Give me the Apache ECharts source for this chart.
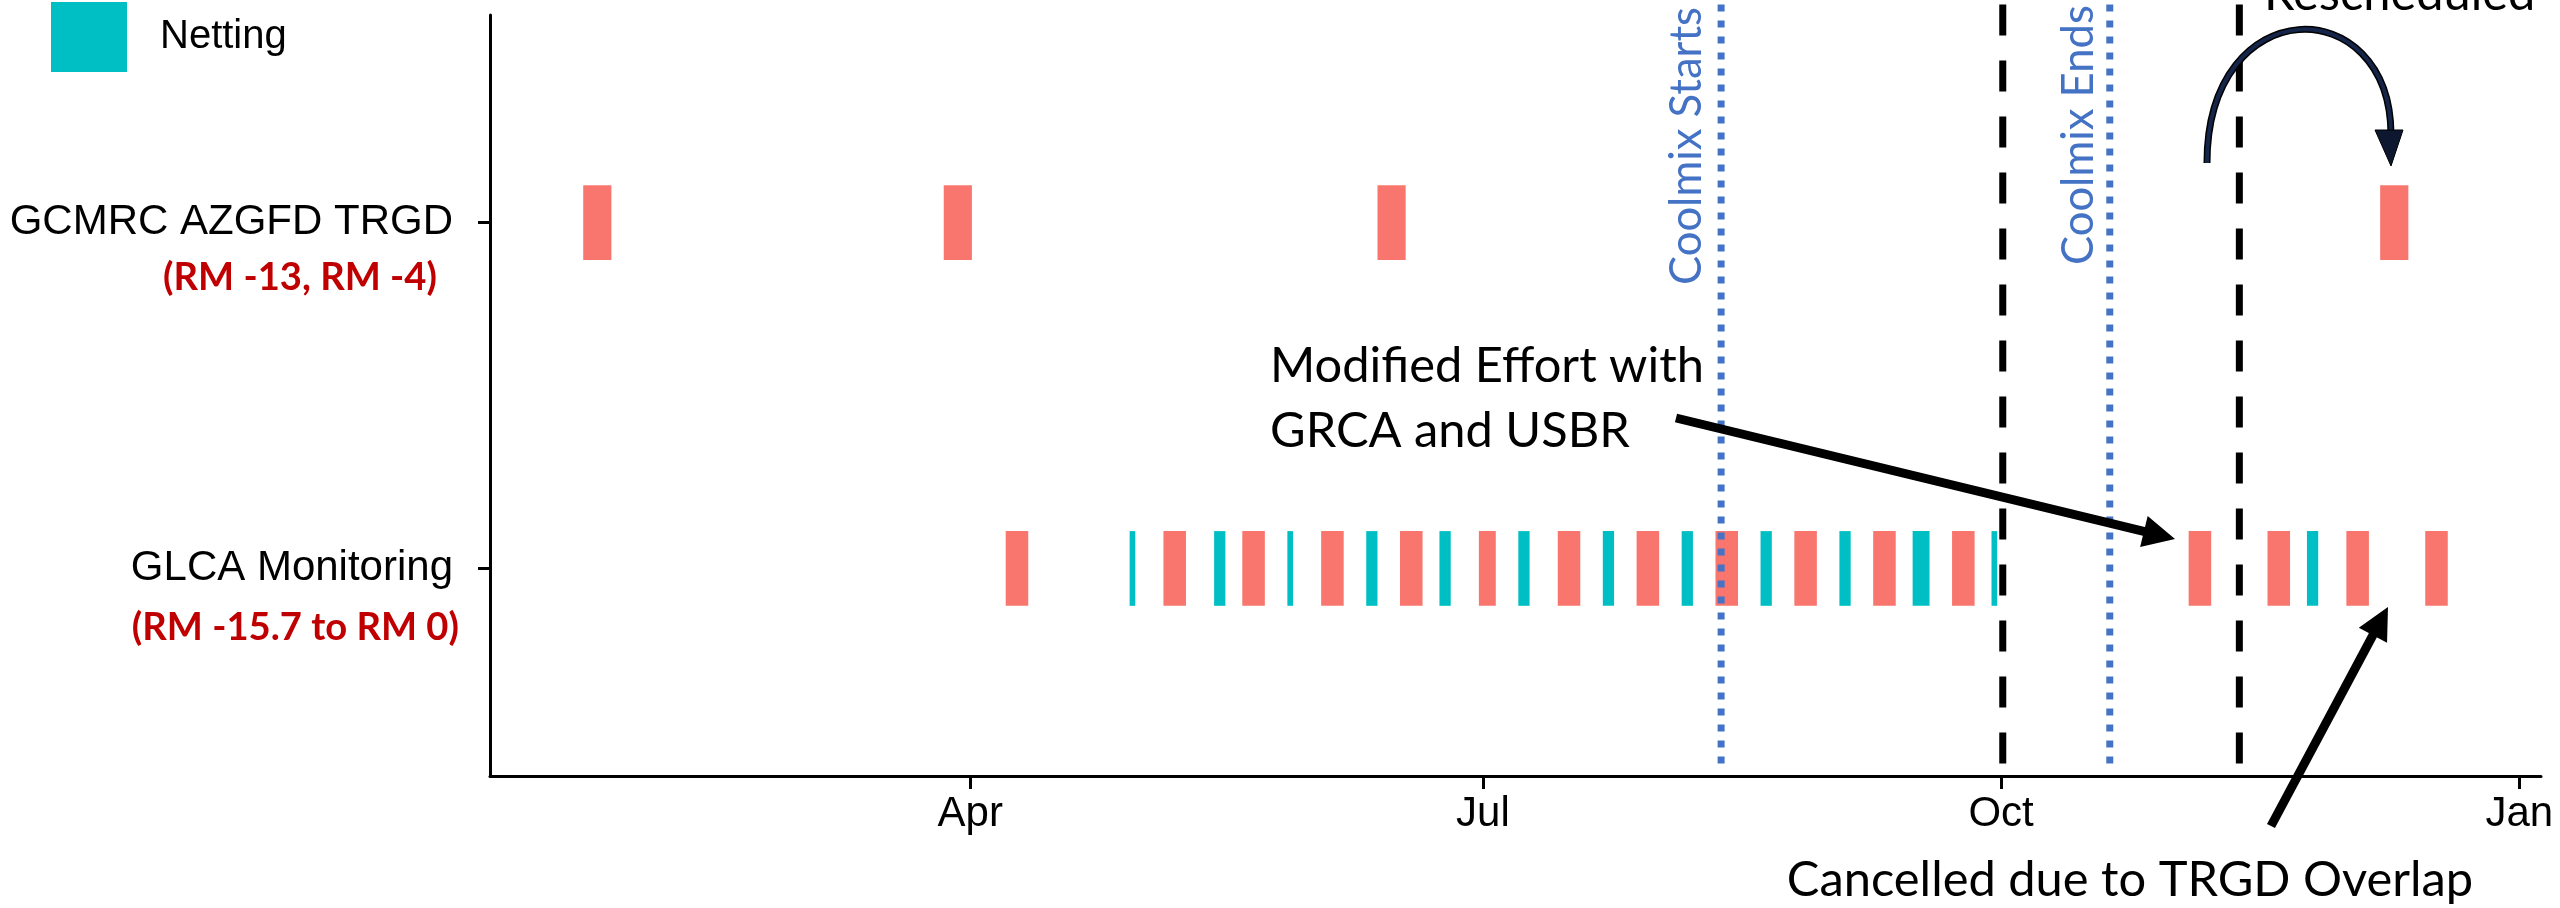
<!DOCTYPE html>
<html>
<head>
<meta charset="utf-8">
<script src="https://cdn.jsdelivr.net/npm/echarts@6/dist/echarts.min.js"></script>
<style>html,body{margin:0;padding:0;background:#fff}#c{width:2560px;height:908px}</style>
</head>
<body>
<div id="c"></div>
<script>
// ---------------- data ----------------
const categories = ['GLCA Monitoring', 'GCMRC AZGFD TRGD'];           // bottom -> top
const categorySubLabels = ['(RM -15.7 to RM 0)', '(RM -13, RM -4)'];
const methods = ['Electrofishing', 'Netting'];

const glcaElectrofishing = [
  ['2024-04-07','2024-04-11'], ['2024-05-05','2024-05-09'], ['2024-05-19','2024-05-23'],
  ['2024-06-02','2024-06-06'], ['2024-06-16','2024-06-20'], ['2024-06-30','2024-07-03'],
  ['2024-07-14','2024-07-18'], ['2024-07-28','2024-08-01'], ['2024-08-11','2024-08-15'],
  ['2024-08-25','2024-08-29'], ['2024-09-08','2024-09-12'], ['2024-09-22','2024-09-26'],
  ['2024-11-03','2024-11-07'], ['2024-11-17','2024-11-21'], ['2024-12-01','2024-12-05'],
  ['2024-12-15','2024-12-19']
];
const glcaNetting = [
  ['2024-04-29','2024-04-30'], ['2024-05-14','2024-05-16'], ['2024-05-27','2024-05-28'],
  ['2024-06-10','2024-06-12'], ['2024-06-23','2024-06-25'], ['2024-07-07','2024-07-09'],
  ['2024-07-22','2024-07-24'], ['2024-08-05','2024-08-07'], ['2024-08-19','2024-08-21'],
  ['2024-09-02','2024-09-04'], ['2024-09-15','2024-09-18'], ['2024-09-29','2024-09-30'],
  ['2024-11-24','2024-11-26']
];
const gcmrcElectrofishing = [
  ['2024-01-23','2024-01-28'], ['2024-03-27','2024-04-01'], ['2024-06-12','2024-06-17'],
  ['2024-12-07','2024-12-12']
];
const tickDates = ['2024-04-01','2024-07-01','2024-10-01','2025-01-01'];
const tickLabels = ['Apr','Jul','Oct','Jan'];
const coolmixDates = ['2024-08-12','2024-10-20'];
const coolmixLabels = ['Coolmix Starts','Coolmix Ends'];
const dashedDates = ['2024-10-01','2024-11-12'];

// ---------------- style constants ----------------
const SALMON = '#F8766D', TEAL = '#00BFC4', BLUE = '#4472C4', RED = '#C00000';
const ARIAL = "'Liberation Sans', Arial, sans-serif";
const CAL = "Lato, 'Open Sans', sans-serif";
const BAR_HALF = 0.108;
const LINE_TOP = 2.63, LINE_BOTTOM = 0.43;
const TZ_OFFSET_H = 7;

function toTime(s){ const [y,m,d]=s.split('-').map(Number); return Date.UTC(y,m-1,d) + TZ_OFFSET_H*3600e3; }
function tickTime(s){ const [y,m,d]=s.split('-').map(Number); return Date.UTC(y,m-1,d); }
function trips(list, ci){ return list.map(([s,e]) => [ci+1, toTime(s), toTime(e)]); }

const electroData = trips(glcaElectrofishing,0).concat(trips(gcmrcElectrofishing,1));
const nettingData = trips(glcaNetting,0);
const allT = electroData.concat(nettingData);
const tMin = Math.min(...allT.map(d=>d[1])), tMax = Math.max(...allT.map(d=>d[2]));
const pad = 0.05*(tMax - tMin);
const ticks = tickDates.map(tickTime);

const mctx = document.createElement('canvas').getContext('2d');
function fit(text, weight, family, width){ mctx.font = weight + ' 100px ' + family; return 100*width/mctx.measureText(text).width; }
const annSize = fit('Modified Effort with','normal',CAL,434);
const vlSize = fit('Coolmix Starts','normal',CAL,278);
const redSize = fit('(RM -13, RM -4)','bold',CAL,274);

function renderTrip(params, api){
  const cat = api.value(0), s = api.value(1), e = api.value(2);
  const a = api.coord([s, cat + BAR_HALF]);
  const b = api.coord([e, cat - BAR_HALF]);
  return {type:'rect', shape:{x:a[0], y:a[1], width:b[0]-a[0], height:b[1]-a[1]}, style:{fill: api.visual('color')}};
}
function vline(date, color, width, dash){
  return {type:'line', data:[[toTime(date), LINE_TOP],[toTime(date), LINE_BOTTOM]], symbol:'none', showSymbol:false,
    clip:false, silent:true, z:3, lineStyle:{color, width, type:dash, cap:'butt'}};
}
function arrow(tail, tip, width, headLen, headHalf, color){
  const dx=tip[0]-tail[0], dy=tip[1]-tail[1], L=Math.hypot(dx,dy), ux=dx/L, uy=dy/L;
  const bx=tip[0]-ux*headLen, by=tip[1]-uy*headLen;
  return [
    {type:'line', z:100, shape:{x1:tail[0],y1:tail[1],x2:bx+ux*2,y2:by+uy*2}, style:{stroke:color,lineWidth:width}},
    {type:'polygon', z:100, shape:{points:[tip,[bx-uy*headHalf, by+ux*headHalf],[bx+uy*headHalf, by-ux*headHalf]]}, style:{fill:color}}
  ];
}
function txt(x, y, text, o){
  return {type:'text', x, y, z:100, rotation:o.rotation||0, style:{text, fill:o.fill||'#000', fontSize:o.size,
    fontFamily:o.family||CAL, fontWeight:o.weight||'normal', align:o.align||'left', verticalAlign:'middle'}};
}

const series = [
  {type:'custom', name:methods[0], renderItem:renderTrip, data:electroData, encode:{x:[1,2], y:0}, itemStyle:{color:SALMON}, z:2},
  {type:'custom', name:methods[1], renderItem:renderTrip, data:nettingData, encode:{x:[1,2], y:0}, itemStyle:{color:TEAL}, z:2},
  vline(coolmixDates[0], BLUE, 7, [7,9]),
  vline(coolmixDates[1], BLUE, 7, [7,9]),
  vline(dashedDates[0], '#000', 7, [31,25]),
  vline(dashedDates[1], '#000', 7, [31,25])
];

const graphic = [
  txt(437, 278, categorySubLabels[1], {size:redSize, weight:'bold', fill:RED, align:'right'}),
  txt(459, 628, categorySubLabels[0], {size:redSize, weight:'bold', fill:RED, align:'right'}),
  txt(1687, 285, coolmixLabels[0], {size:vlSize, fill:BLUE, rotation:Math.PI/2}),
  txt(2079, 265, coolmixLabels[1], {size:vlSize, fill:BLUE, rotation:Math.PI/2}),
  txt(1270, 366, 'Modified Effort with', {size:annSize}),
  txt(1270, 431, 'GRCA and USBR', {size:annSize}),
  txt(2130, 880, 'Cancelled due to TRGD Overlap', {size:annSize, align:'center'}),
  txt(2264, -6, 'Rescheduled', {size:annSize}),
  ...arrow([1676,418],[2175,539], 9, 32, 16, '#000'),
  ...arrow([2271,826],[2388,607], 9, 32, 16, '#000'),
  {type:'bezierCurve', z:100, shape:{x1:2207,y1:163,cpx1:2207,cpy1:-10,cpx2:2390,cpy2:-10,x2:2391,y2:134},
    style:{stroke:'#000', lineWidth:7, fill:null}},
  {type:'bezierCurve', z:101, shape:{x1:2207,y1:163,cpx1:2207,cpy1:-10,cpx2:2390,cpy2:-10,x2:2391,y2:134},
    style:{stroke:'#15254a', lineWidth:4, fill:null}},
  {type:'polygon', z:102, shape:{points:[[2375,130],[2403,130],[2391,166]]}, style:{fill:'#0d1730', stroke:'#000', lineWidth:1}}
];

const chart = echarts.init(document.getElementById('c'), null, {renderer:'canvas'});
chart.setOption({
  animation:false,
  backgroundColor:'#fff',
  grid:{left:490, right:19, top:15, bottom:132, containLabel:false, outerBoundsMode:'none'},
  legend:{data:[methods[1]], left:51, top:2, padding:0, itemWidth:76, itemHeight:70, icon:'rect', selectedMode:false,
    textStyle:{fontSize:40, color:'#000', fontFamily:ARIAL, padding:[0,0,0,28]}},
  xAxis:{type:'value', min:tMin-pad, max:tMax+pad,
    axisLine:{onZero:false, lineStyle:{color:'#000', width:3}},
    axisTick:{customValues:ticks, length:13, lineStyle:{color:'#000', width:3}},
    axisLabel:{customValues:ticks, formatter:v=>tickLabels[ticks.indexOf(v)] ?? '', fontSize:42, color:'#000', fontFamily:ARIAL, margin:17},
    splitLine:{show:false}},
  yAxis:{type:'value', min:0.4, max:2.6,
    axisLine:{show:true, onZero:false, lineStyle:{color:'#000', width:3}},
    axisTick:{show:true, customValues:[1,2], length:12, lineStyle:{color:'#000', width:3}},
    axisLabel:{customValues:[1,2], formatter:v=>categories[Math.round(v)-1] ?? '', fontSize:42, color:'#000', fontFamily:ARIAL, margin:37},
    splitLine:{show:false}},
  series,
  graphic
});
</script>
</body>
</html>
